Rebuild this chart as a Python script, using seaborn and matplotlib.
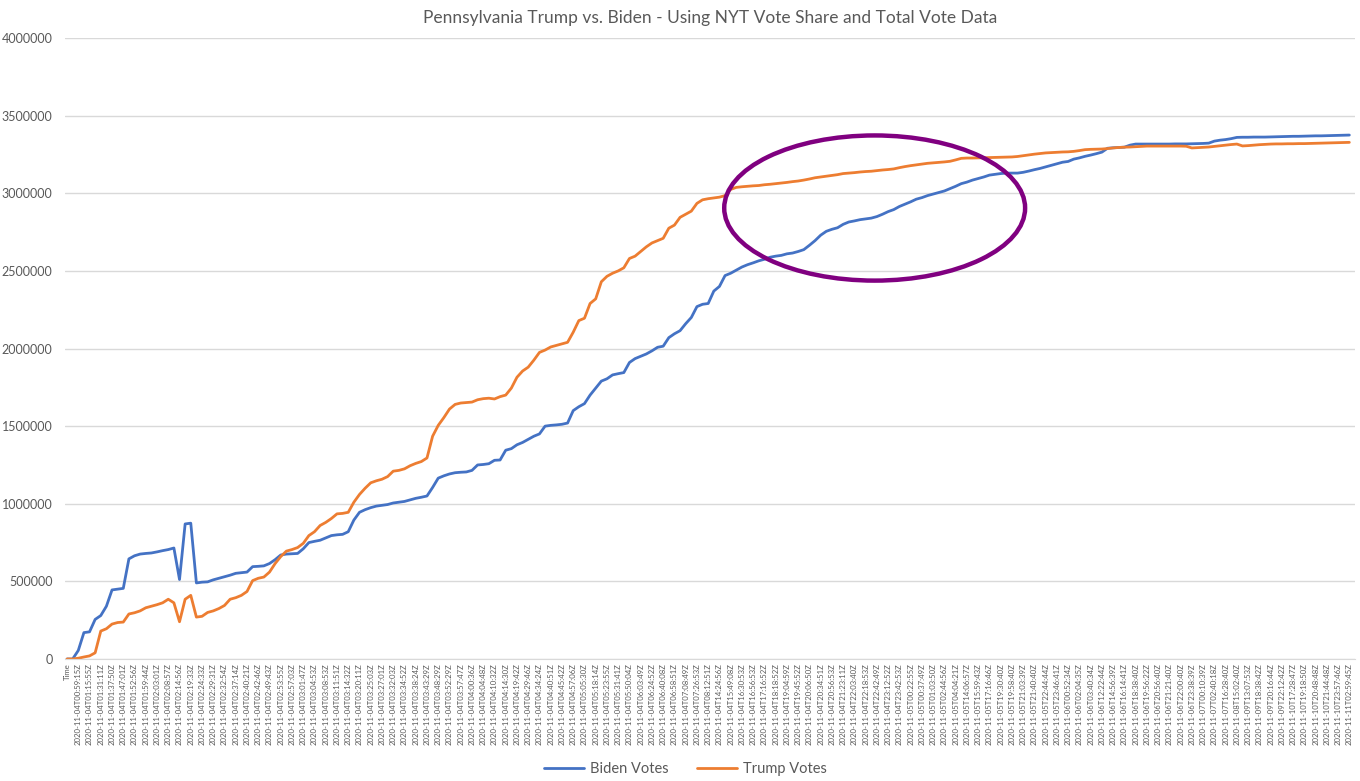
import numpy as np
import pandas as pd
import matplotlib.pyplot as plt
import seaborn as sns
from matplotlib.patches import Ellipse
from matplotlib.ticker import FuncFormatter

# -----------------------------
# Data (thousands of votes, two samples per tick label)
# -----------------------------
biden_k = [
    0, 0, 55, 170, 175, 255, 280, 340, 445, 450,
    455, 645, 665, 676, 680, 683, 690, 698, 705, 715,
    512, 870, 875, 490, 495, 497, 510, 520, 530, 540,
    552, 556, 560, 595, 597, 600, 615, 640, 670, 676,
    678, 680, 710, 750, 758, 765, 780, 795, 800, 803,
    820, 895, 945, 962, 975, 985, 990, 995, 1005, 1010,
    1015, 1025, 1035, 1042, 1050, 1105, 1165, 1180, 1192, 1200,
    1203, 1205, 1215, 1250, 1253, 1258, 1280, 1282, 1345, 1355,
    1380, 1395, 1415, 1435, 1450, 1500, 1505, 1508, 1512, 1520,
    1600, 1625, 1645, 1700, 1745, 1790, 1805, 1830, 1838, 1845,
    1910, 1935, 1950, 1965, 1985, 2008, 2015, 2070, 2095, 2115,
    2160, 2200, 2270, 2285, 2290, 2370, 2400, 2470, 2485, 2505,
    2525, 2540, 2552, 2565, 2575, 2588, 2595, 2600, 2610, 2615,
    2625, 2637, 2665, 2695, 2730, 2755, 2768, 2778, 2800, 2815,
    2822, 2830, 2835, 2840, 2850, 2865, 2882, 2895, 2915, 2930,
    2945, 2962, 2972, 2985, 2995, 3005, 3015, 3030, 3045, 3062,
    3072, 3085, 3095, 3105, 3117, 3122, 3127, 3130, 3130, 3130,
    3135, 3143, 3152, 3160, 3170, 3180, 3190, 3200, 3205, 3220,
    3228, 3238, 3246, 3255, 3265, 3290, 3293, 3295, 3297, 3310,
    3317, 3317, 3317, 3317, 3317, 3317, 3317, 3318, 3318, 3318,
    3319, 3320, 3321, 3323, 3336, 3342, 3346, 3352, 3360, 3361,
    3361, 3362, 3362, 3362, 3363, 3364, 3365, 3366, 3367, 3367,
    3368, 3369, 3370, 3370, 3371, 3372, 3373, 3374, 3375,
]

trump_k = [
    0, 0, 5, 13, 20, 40, 180, 195, 225, 235,
    238, 290, 298, 310, 330, 340, 350, 362, 385, 362,
    240, 385, 410, 270, 275, 300, 310, 325, 345, 385,
    395, 410, 435, 505, 520, 528, 560, 615, 660, 695,
    705, 718, 745, 795, 820, 860, 880, 905, 935, 938,
    945, 1010, 1060, 1100, 1135, 1148, 1158, 1175, 1210, 1215,
    1225, 1245, 1260, 1272, 1295, 1435, 1505, 1555, 1610, 1640,
    1649, 1652, 1655, 1670, 1677, 1680, 1675, 1690, 1700, 1745,
    1815, 1855, 1880, 1925, 1975, 1990, 2010, 2020, 2030, 2040,
    2105, 2180, 2195, 2290, 2320, 2430, 2465, 2485, 2500, 2520,
    2580, 2595, 2625, 2655, 2680, 2695, 2710, 2775, 2795, 2845,
    2865, 2885, 2935, 2958, 2965, 2970, 2975, 2985, 3025, 3038,
    3042, 3045, 3048, 3050, 3055, 3058, 3062, 3066, 3070, 3075,
    3079, 3085, 3092, 3100, 3105, 3110, 3115, 3120, 3127, 3130,
    3133, 3137, 3140, 3142, 3146, 3150, 3153, 3157, 3165, 3172,
    3178, 3183, 3188, 3193, 3196, 3199, 3202, 3206, 3215, 3225,
    3227, 3227, 3228, 3229, 3230, 3231, 3232, 3233, 3234, 3237,
    3242, 3247, 3252, 3256, 3260, 3262, 3264, 3266, 3267, 3270,
    3275, 3281, 3283, 3284, 3285, 3288, 3292, 3295, 3297, 3298,
    3300, 3302, 3304, 3304, 3304, 3304, 3304, 3304, 3304, 3303,
    3292, 3294, 3296, 3298, 3302, 3306, 3310, 3314, 3317, 3305,
    3307, 3310, 3313, 3315, 3317, 3318, 3318, 3319, 3319, 3320,
    3320, 3321, 3322, 3323, 3324, 3325, 3326, 3327, 3328,
]

times_11_04 = [
    "00:59:15", "01:15:55", "01:31:11", "01:37:50", "01:47:01", "01:52:56",
    "01:59:44", "02:03:01", "02:08:57", "02:14:56", "02:19:33", "02:24:33",
    "02:29:31", "02:32:54", "02:37:14", "02:40:21", "02:42:46", "02:49:43",
    "02:53:55", "02:57:03", "03:01:47", "03:04:53", "03:08:53", "03:11:51",
    "03:14:32", "03:20:11", "03:25:03", "03:27:01", "03:32:03", "03:34:52",
    "03:38:24", "03:43:29", "03:48:29", "03:52:29", "03:57:47", "04:00:36",
    "04:04:48", "04:10:32", "04:14:30", "04:19:42", "04:29:46", "04:34:24",
    "04:40:51", "04:45:42", "04:57:06", "05:05:30", "05:18:14", "05:23:55",
    "05:31:41", "05:50:04", "06:03:49", "06:24:52", "06:40:08", "06:58:51",
    "07:08:49", "07:26:53", "08:12:51", "14:24:56", "15:49:08", "16:30:53",
    "16:56:53", "17:16:52", "18:18:52", "19:04:59", "19:45:52", "20:06:50",
    "20:34:51", "20:56:53", "21:23:11", "22:03:40", "22:18:53", "22:42:49",
    "23:12:52", "23:42:53",
]
times_later = [
    "11-05T00:22:55", "11-05T00:37:49", "11-05T01:03:50", "11-05T02:44:56",
    "11-05T04:04:21", "11-05T14:06:57", "11-05T15:59:43", "11-05T17:16:46",
    "11-05T19:30:40", "11-05T19:58:40", "11-05T21:03:39", "11-05T21:40:40",
    "11-05T22:44:44", "11-05T23:46:41", "11-06T00:52:34", "11-06T02:04:35",
    "11-06T03:40:34", "11-06T12:22:44", "11-06T14:56:39", "11-06T16:14:41",
    "11-06T18:38:40", "11-06T19:56:22", "11-06T20:56:40", "11-06T21:21:40",
    "11-06T22:00:40", "11-06T23:38:39", "11-07T00:10:39", "11-07T02:40:18",
    "11-07T16:28:40", "11-08T15:02:40", "11-09T13:07:53", "11-09T18:38:42",
    "11-09T20:16:44", "11-09T22:12:42", "11-10T17:28:47", "11-10T19:18:50",
    "11-10T20:48:48", "11-10T21:44:48", "11-10T23:57:46", "11-11T02:59:45",
]
tick_labels = (["Time"]
               + ["2020-11-04T" + t + "Z" for t in times_11_04]
               + ["2020-" + t + "Z" for t in times_later])

BLUE = "#4472C4"
ORANGE = "#ED7D31"
GRAY = "#595959"

# -----------------------------
# Long-form table for seaborn
# -----------------------------
n = len(biden_k)
df = pd.DataFrame({
    "step": list(range(n)) * 2,
    "votes": np.array(biden_k + trump_k) * 1000,
    "series": ["Biden Votes"] * n + ["Trump Votes"] * n,
})

sns.set_style("white")
plt.rcParams["font.family"] = ["Lato", "DejaVu Sans"]

fig = plt.figure(figsize=(13.6, 7.81), dpi=100)
ax = fig.add_axes([0.0478, 0.1562, 0.9485, 0.7951])

sns.lineplot(data=df, x="step", y="votes", hue="series",
             palette={"Biden Votes": BLUE, "Trump Votes": ORANGE},
             linewidth=2.0, ax=ax)

ax.set_xlim(-0.36, 229)
ax.set_ylim(0, 4000000)
ax.set_yticks(np.arange(0, 4000001, 500000))
ax.yaxis.set_major_formatter(FuncFormatter(lambda v, p: f"{int(v)}"))
ax.grid(axis="y", color="#D9D9D9", linewidth=1)
ax.set_axisbelow(True)

ax.set_xticks(np.arange(0, n, 2))
ax.set_xticklabels(tick_labels, rotation=90, fontsize=5.6, color=GRAY)
ax.tick_params(axis="y", labelsize=9, labelcolor=GRAY, length=0, pad=9)
ax.tick_params(axis="x", length=0, pad=3)
ax.set_xlabel("")
ax.set_ylabel("")

for side in ["top", "right", "left"]:
    ax.spines[side].set_visible(False)
ax.spines["bottom"].set_color("#D9D9D9")

ax.set_title("Pennsylvania Trump vs. Biden - Using NYT Vote Share and Total Vote Data",
             fontsize=12.5, color=GRAY, pad=11)

# highlight circle drawn on the original chart
ax.add_patch(Ellipse((143.6, 2905000), 53.5, 935000, fill=False,
                     edgecolor="#800080", linewidth=3.2, zorder=5))

handles, labels = ax.get_legend_handles_labels()
ax.legend(handles, labels, loc="lower center", bbox_to_anchor=(0.481, -0.21),
          ncol=2, frameon=False, fontsize=10.5, handlelength=2.7,
          handletextpad=0.4, columnspacing=2.0, labelcolor=GRAY)

fig.savefig("out.png", dpi=100, facecolor="white")
